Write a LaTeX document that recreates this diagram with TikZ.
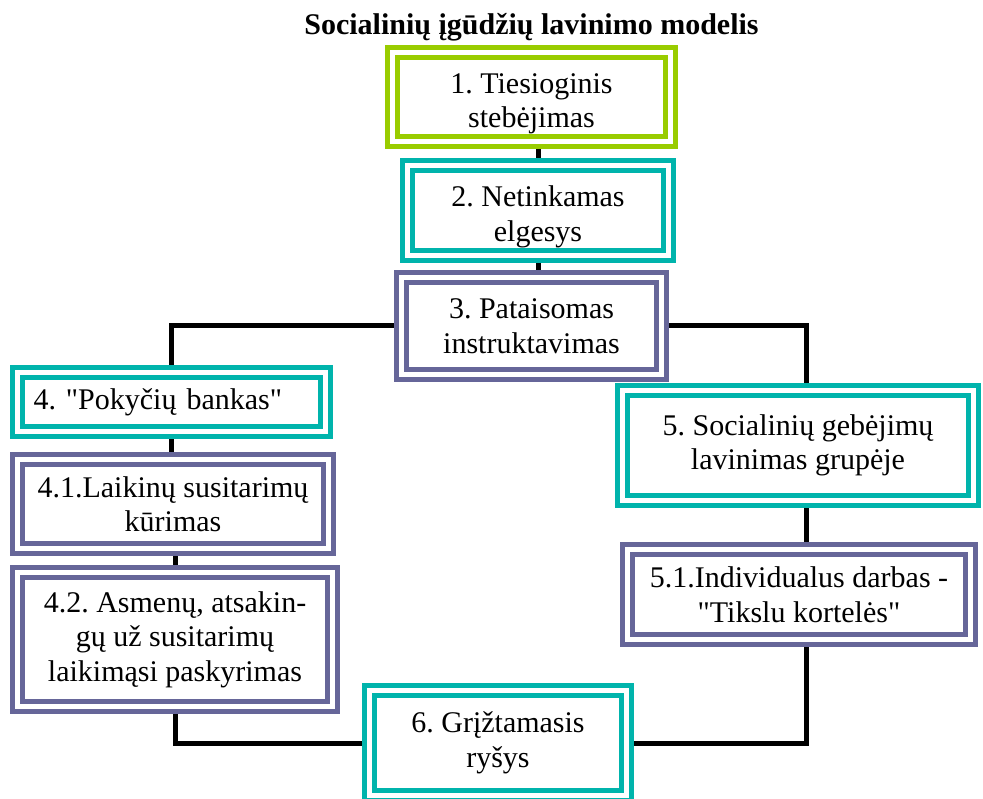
\documentclass[tikz,border=0pt]{standalone}
\usepackage{fontspec}
\setmainfont{Liberation Serif}[Ligatures=TeXOff]
\usetikzlibrary{backgrounds}
\definecolor{cgreen}{RGB}{153,204,0}
\definecolor{cteal}{RGB}{0,180,172}
\definecolor{cpurple}{RGB}{102,102,153}
\newcommand{\boxfont}{\fontsize{30}{34.5}\selectfont}
\newcommand{\lowstrut}{\rule{0pt}{33pt}}
\frenchspacing
\tikzset{
  dbox/.style={draw=#1, line width=5pt, double=white, double distance=5pt,
    fill=white, inner sep=0pt, align=center, font=\boxfont, text=black},
  conn/.style={line width=5pt, draw=black},
}
\begin{document}
\begin{tikzpicture}[x=1pt, y=-1pt]
\useasboundingbox (0,0) rectangle (983,799);
\clip (0,0) rectangle (983,799);
\node[font=\bfseries\boxfont, anchor=base] (title) at (531.5,35) {Socialinių įgūdžių lavinimo modelis};

\node[dbox=cgreen, minimum width=278pt, minimum height=89pt] (b1) at (531.5,97) {\lowstrut 1. Tiesioginis\\stebėjimas};
\node[dbox=cteal, minimum width=261pt, minimum height=90pt] (b2) at (538,210.5) {\lowstrut 2. Netinkamas\\elgesys};
\node[dbox=cpurple, minimum width=260pt, minimum height=97pt] (b3) at (531.5,326) {3. Pataisomas\\instruktavimas};
\node[dbox=cteal, minimum width=308pt, minimum height=59pt, align=left, text width=276pt] (b4) at (171.5,402) {4. "Pokyčių bankas"};
\node[dbox=cpurple, minimum width=311pt, minimum height=89pt] (b41) at (173,504) {4.1.Laikinų susitarimų\\kūrimas};
\node[dbox=cpurple, minimum width=315pt, minimum height=134pt] (b42) at (175,639.5) {4.2. Asmenų, atsakin-\\gų už susitarimų\\laikimąsi paskyrimas};
\node[dbox=cteal, minimum width=351pt, minimum height=110pt] (b5) at (798,445.5) {5. Socialinių gebėjimų\\lavinimas grupėje\vphantom{]}};
\node[dbox=cpurple, minimum width=343pt, minimum height=90pt] (b51) at (799,594.5) {5.1.Individualus darbas -\\"Tikslu kortelės"};
\node[dbox=cteal, minimum width=257pt, minimum height=105pt] (b6) at (498,743) {6. Grįžtamasis\\ryšys};

\begin{scope}[on background layer]
  \draw[conn] (b2.north) -- (b2.north |- b1.south);
  \draw[conn] (b2.south) -- (b2.south |- b3.north);
  \draw[conn] (b3.west) -| (b4.north);
  \draw[conn] (b3.east) -| ([xshift=8pt]b5.north);
  \draw[conn] (b4.south) -- (b4.south |- b41.north);
  \draw[conn] (b42.north) -- (b42.north |- b41.south);
  \draw[conn] (b42.south) |- (b6.west);
  \draw[conn] ([xshift=8pt]b5.south) -- ([xshift=8pt]b5.south |- b51.north);
  \draw[conn] (b6.east) -| ([xshift=7pt]b51.south);
\end{scope}
\end{tikzpicture}
\end{document}
